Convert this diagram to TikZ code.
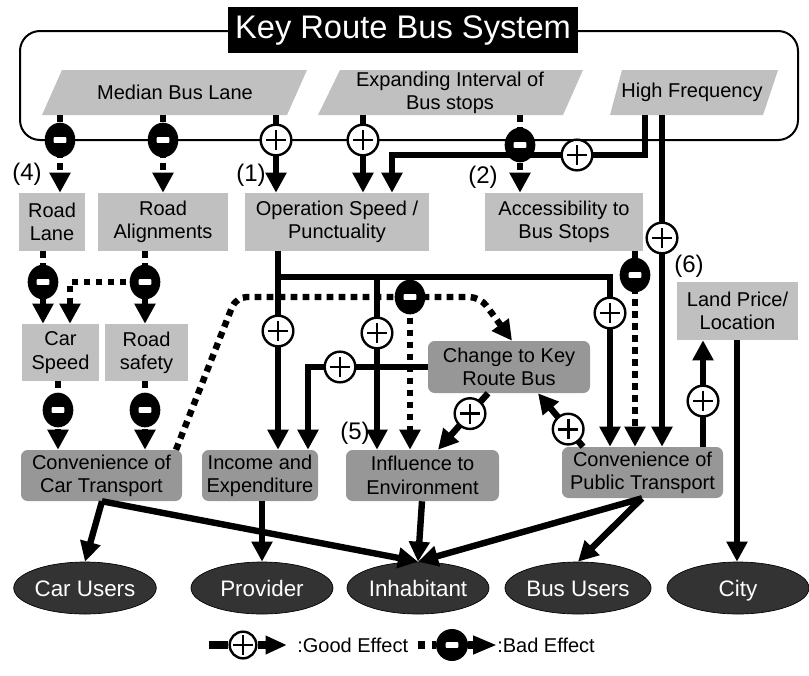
\documentclass[tikz,border=0pt]{standalone}
\usepackage{fontspec}
\setmainfont{Liberation Sans}
\usetikzlibrary{arrows.meta,shapes.geometric}
\definecolor{lg}{HTML}{C0C0C0}
\definecolor{dg}{HTML}{979797}
\definecolor{ellc}{HTML}{333333}
\newcommand{\fsbox}{\fontsize{15}{17.5}\selectfont}
\tikzset{
  lbox/.style={fill=lg, inner sep=0pt, align=center, font=\fsbox},
  dbox/.style={fill=dg, rounded corners=5pt, inner sep=0pt, align=center, font=\fsbox},
  ptext/.style={inner sep=0pt, align=center, font=\fsbox, minimum height=33.75pt},
  ellnode/.style={ellipse, draw=black, line width=0.5pt, fill=ellc, text=white, inner sep=0pt,
    minimum width=106.5pt, minimum height=39pt, text height=12pt, text depth=0pt,
    font=\fontsize{16.8}{20}\selectfont},
  conn/.style={line width=4.8pt, -{Triangle[width=15pt,length=15pt]}},
  dconn/.style={conn, dash pattern=on 5pt off 4pt},
  plusn/.style={circle, draw=black, fill=white, line width=1.8pt, minimum size=23pt, inner sep=0pt,
    path picture={\draw[-, black, solid, line width=2.2pt]
      ([xshift=-7.5pt]path picture bounding box.center) -- ([xshift=7.5pt]path picture bounding box.center)
      ([yshift=-7.5pt]path picture bounding box.center) -- ([yshift=7.5pt]path picture bounding box.center);}},
  minusn/.style={ellipse, fill=black, minimum width=23pt, minimum height=26pt, inner sep=0pt,
    path picture={\fill[white, rounded corners=0.8pt]
      ([xshift=-4.8pt,yshift=-2.2pt]path picture bounding box.center) rectangle
      ([xshift=4.8pt,yshift=2.2pt]path picture bounding box.center);}},
  lbl/.style={font=\fontsize{18}{20}\selectfont, inner sep=0pt},
  legtext/.style={anchor=west, inner sep=0pt, font=\fontsize{15}{17}\selectfont},
}
\begin{document}
\begin{tikzpicture}[x=0.75pt,y=-0.75pt]
\useasboundingbox (0,0) rectangle (809,675);
% frame and title
\draw[line width=1.5pt, rounded corners=15pt] (20,31) rectangle (798,140);
\node[fill=black, text=white, font=\fontsize{24.5}{28}\selectfont, minimum width=262.5pt,
  minimum height=34.5pt, inner sep=0pt] (title) at (403,30) {Key Route Bus System};
% parallelograms
\fill[lg] (42,115) -- (62,70) -- (307,70) -- (287,115) -- cycle;
\fill[lg] (318,115) -- (340,70) -- (583,70) -- (563,115) -- cycle;
\fill[lg] (610,115) -- (622,70) -- (778,70) -- (763,115) -- cycle;
\node[ptext] (med) at (175,92.5) {Median Bus Lane};
\node[ptext] (exp) at (450,92.5) {Expanding Interval of\\Bus stops};
\node[ptext] (hf) at (692,92.5) {High Frequency};
% light boxes
\node[lbox, minimum width=49.5pt, minimum height=43.5pt] (rlane) at (52,222) {Road\\Lane};
\node[lbox, minimum width=97.5pt, minimum height=43.5pt] (ralign) at (163,222) {Road\\Alignments};
\node[lbox, minimum width=138pt, minimum height=43.5pt] (opsp) at (337,222) {Operation Speed /\\Punctuality};
\node[lbox, minimum width=118.5pt, minimum height=43.5pt] (acc) at (564,222) {Accessibility to\\Bus Stops};
\node[lbox, minimum width=57.75pt, minimum height=42.75pt] (cspeed) at (60.5,352.5) {Car\\Speed};
\node[lbox, minimum width=62.25pt, minimum height=42.75pt] (rsafe) at (146.5,352.5) {Road\\safety};
\node[lbox, minimum width=90.75pt, minimum height=43.5pt] (land) at (737.5,311) {Land Price/\\Location};
% dark boxes
\node[dbox, minimum width=120.75pt, minimum height=38.25pt] (convcar) at (101.5,475.5) {Convenience of\\Car Transport};
\node[dbox, minimum width=87pt, minimum height=38.25pt] (income) at (260,475.5) {Income and\\Expenditure};
\node[dbox, minimum width=114.75pt, minimum height=38.25pt] (infl) at (422.5,475.5) {Influence to\\Environment};
\node[dbox, minimum width=120.75pt, minimum height=38.25pt] (convpub) at (642.5,472.5) {Convenience of\\Public Transport};
\node[dbox, minimum width=121.5pt, minimum height=39pt] (change) at (509,367) {Change to Key\\Route Bus};
% ellipses
\node[ellnode] (carusers) at (85,588) {Car Users};
\node[ellnode] (provider) at (262,588) {Provider};
\node[ellnode] (inhab) at (418,588) {Inhabitant};
\node[ellnode] (bususers) at (578,588) {Bus Users};
\node[ellnode] (city) at (738,588) {City};
% connectors from the system
\draw[dconn] (60,0 |- med.south) -- (60,140) node[minusn] (m1) {} -- (60,0 |- rlane.north);
\draw[dconn] (163,0 |- med.south) -- (163,140) node[minusn] (m2) {} -- (163,0 |- ralign.north);
\draw[conn] (276,0 |- med.south) -- (276,140) node[plusn] (p1) {} -- (276,0 |- opsp.north);
\draw[conn] (363,0 |- exp.south) -- (363,140) node[plusn] (p2) {} -- (363,0 |- opsp.north);
\draw[conn] (645,0 |- hf.south) -- (645,155) -- (577,155) node[plusn] (p3) {} -- (392,155) -- (392,0 |- opsp.north);
\draw[dconn] (520,0 |- exp.south) -- (520,145) node[minusn] (m3) {} -- (520,0 |- acc.north);
\draw[conn] (662,0 |- hf.south) -- (662,238) node[plusn] (p4) {} -- (662,0 |- convpub.north);
% road side
\draw[dconn] (43,0 |- rlane.south) -- (43,282) node[minusn] (m4) {} -- (43,0 |- cspeed.north);
\draw[dconn] (145,0 |- ralign.south) -- (145,282) node[minusn] (m5) {} -- (145,0 |- rsafe.north);
\draw[dconn] (m5.west) -- (70,282) -- (70,0 |- cspeed.north);
\draw[dconn] (58,0 |- cspeed.south) -- (58,410) node[minusn] (m6) {} -- (58,0 |- convcar.north);
\draw[dconn] (145,0 |- rsafe.south) -- (145,410) node[minusn] (m7) {} -- (145,0 |- convcar.north);
% operation speed outputs
\draw[conn] (278,0 |- opsp.south) -- (278,331) node[plusn] (p5) {} -- (278,0 |- income.north);
\draw[conn] (278,277) -- (377,277) -- (377,333) node[plusn] (p6) {} -- (377,0 |- infl.north);
\draw[conn] (278,277) -- (610,277) -- (610,313) node[plusn] (p7) {} -- (610,0 |- convpub.north);
% change to key route bus
\draw[conn] (change.west) -- (340,367) node[plusn] (p8) {} -- (308,367) -- (308,0 |- income.north);
\draw[dconn, rounded corners=8pt] (176,0 |- convcar.north) -- (236,297) -- (410,297) node[minusn] (m8) {} -- (480,297) -- (512,0 |- change.north);
\draw[dconn] (m8) -- (410,0 |- infl.north);
\draw[conn] (488,0 |- change.south) -- node[plusn, pos=0.36] (p9) {} (438,0 |- infl.north);
\draw[conn] (583,0 |- convpub.north) -- node[plusn, pos=0.33] (p10) {} (538,0 |- change.south);
\draw[dconn] (635,0 |- acc.south) -- (635,275) node[minusn] (m9) {} -- (635,0 |- convpub.north);
\draw[conn] (703,0 |- convpub.north) -- (703,401) node[plusn] (p11) {} -- (703,0 |- land.south);
\draw[conn] (737,0 |- land.south) -- (737,0 |- city.north);
% to stakeholders
\draw[conn] (102,0 |- convcar.south) -- (carusers.north);
\draw[conn] (102,0 |- convcar.south) -- (inhab.north);
\draw[conn] (262,0 |- income.south) -- (provider.north);
\draw[conn] (422,0 |- infl.south) -- (inhab.north);
\draw[conn] (642,0 |- convpub.south) -- (inhab.north);
\draw[conn] (642,0 |- convpub.south) -- (bususers.north);
% labels
\node[lbl] (l4) at (27,174) {(4)};
\node[lbl] (l1) at (251,175) {(1)};
\node[lbl] (l2) at (483,177) {(2)};
\node[lbl] (l5) at (355,433) {(5)};
\node[lbl] (l6) at (689,266) {(6)};
% legend
\node[plusn, minimum size=20pt] (lgp) at (243,645) {};
\draw[line width=6pt] (209,645) -- (lgp.west);
\draw[line width=6pt, -{Triangle[width=13pt,length=16pt]}] (lgp.east) -- (287,645);
\node[legtext] (lgt) at (297,645) {:Good Effect};
\fill (418,641) rectangle (425,649);
\node[minusn, minimum width=24pt, minimum height=24pt] (lgm) at (452,645) {};
\draw[line width=6pt] (432,645) -- (lgm.west);
\draw[line width=6pt, -{Triangle[width=13pt,length=18pt]}] (lgm.east) -- (497,645);
\node[legtext] (lbt) at (497,645) {:Bad Effect};
\end{tikzpicture}
\end{document}
